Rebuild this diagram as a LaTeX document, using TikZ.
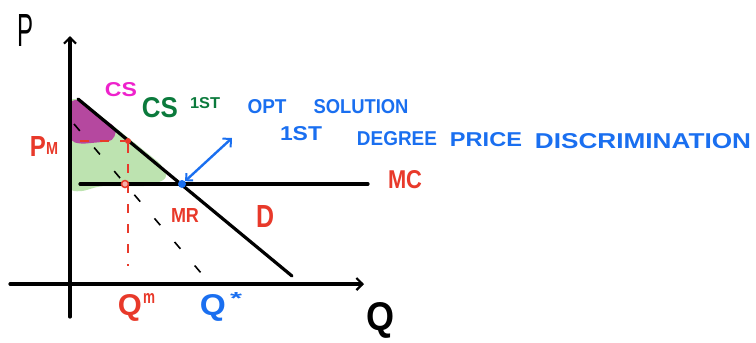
\documentclass[tikz,border=0pt]{standalone}
\usepackage{fontspec}
\usepackage{graphicx}
\setmainfont{Liberation Sans}
\usetikzlibrary{arrows.meta}
\definecolor{hred}{HTML}{E8392A}
\definecolor{hblue}{HTML}{1A6FF0}
\definecolor{hmag}{HTML}{EE22CC}
\definecolor{hdgreen}{HTML}{0B7A3C}
\definecolor{hgfill}{HTML}{BDE3B0}
\definecolor{hpfill}{HTML}{B5489F}
\newcommand{\fitw}[3]{\resizebox{#1pt}{#2pt}{\bfseries #3}}
\newcommand{\fitn}[3]{\resizebox{#1pt}{#2pt}{#3}}
\tikzset{
  axisline/.style={line width=3.2pt, line cap=round},
  curveline/.style={line width=3.2pt, line cap=round},
  lbl/.style={inner sep=0pt, outer sep=0pt},
  reddash/.style={hred, line width=2pt, dash pattern=on 9pt off 11pt},
  mrdash/.style={black, line width=1.6pt, dash pattern=on 9pt off 22pt},
  tipb/.style={-{Straight Barb[length=6pt,width=12pt,line width=2.2pt]}},
}
\begin{document}
\begin{tikzpicture}[x=1pt,y=-1pt]
\useasboundingbox (0,0) rectangle (756,343);
% shaded regions
\fill[hgfill, rounded corners=6pt] (68,99) -- (80,99) -- (162,165) -- (168,178) -- (150,186) -- (100,186) -- (80,192) -- (68,190) -- cycle;
\fill[hpfill, rounded corners=5pt] (70,100) -- (80,100) -- (108,122) -- (117,128) -- (113,141) -- (80,144) -- (70,141) -- cycle;
% axes
\coordinate (ybot) at (70,317);
\coordinate (ytop) at (70,36);
\coordinate (xleft) at (10,284);
\coordinate (xright) at (364,284);
\draw[axisline, tipb] (ybot) -- (ytop);
\draw[axisline, tipb] (xleft) -- (xright);
% demand and MC
\coordinate (d1) at (78,99);
\coordinate (d2) at (292,276);
\draw[curveline] (d1) -- (d2);
\coordinate (mc1) at (80,184);
\coordinate (mc2) at (368,184);
\draw[curveline] (mc1) -- (mc2);
% MR dashed
\coordinate (mr1) at (74,124);
\coordinate (mr2) at (207,280);
\draw[mrdash] (mr1) -- (mr2);
% red dashed lines and dots
\coordinate (pmL) at (80,141);
\node[circle, fill=hred, inner sep=0pt, minimum width=6pt, minimum height=6pt] (pmdot) at (128,141) {};
\coordinate (qmB) at (128,266);
\draw[reddash] (pmL) -- (pmdot);
\draw[reddash] (pmdot) -- (qmB);
\node[circle, draw=hred, fill=hred!40, line width=1.5pt, inner sep=0pt, minimum width=7pt] (mrdot) at (125,184) {};
% blue optimum
\node[circle, fill=hblue, inner sep=0pt, minimum width=8pt] (opt) at (182,184) {};
\coordinate (arrtip) at (232,138);
\draw[hblue, line width=2.4pt, line cap=round, {Straight Barb[length=5pt,width=10pt,line width=2pt]}-{Straight Barb[length=6pt,width=12pt,line width=2pt]}] (opt) -- (arrtip);
% labels
\node[lbl] (P) at (25,30) {\fitn{16}{32}{P}};
\node[lbl] (Q) at (380,320) {\fitw{28}{28}{Q}};
\node[lbl, text=hmag] (cs) at (121,90) {\fitw{32}{14}{CS}};
\node[lbl, text=hdgreen] (cs1) at (160,108) {\fitw{36}{20}{CS}};
\node[lbl, text=hdgreen] (cs1sup) at (205,103) {\fitw{30}{11}{1ST}};
\node[lbl, text=hred] (pmP) at (38,146) {\fitw{16}{20}{P}};
\node[lbl, text=hred] (pmM) at (52,148) {\fitw{12}{12}{M}};
\node[lbl, text=hred] (mc) at (405,180) {\fitw{34}{18}{MC}};
\node[lbl, text=hred] (mr) at (185,215) {\fitw{28}{14}{MR}};
\node[lbl, text=hred] (dl) at (265,216) {\fitw{18}{22}{D}};
\node[lbl, text=hred] (qm) at (130,308) {\fitw{24}{21}{Q}};
\node[lbl, text=hred] (qmsup) at (149,298) {\fitw{12}{10}{m}};
\node[lbl, text=hblue] (qs) at (213,308) {\fitw{26}{21}{Q}};
\node[lbl, text=hblue] (qssup) at (236,298) {\fitw{12}{12}{*}};
\node[lbl, text=hblue] (opt1) at (267,107) {\fitw{39}{14}{OPT}};
\node[lbl, text=hblue] (opt2) at (361,107) {\fitw{95}{14}{SOLUTION}};
\node[lbl, text=hblue] (pd1) at (301,134) {\fitw{42}{14}{1ST}};
\node[lbl, text=hblue] (pd2) at (397,139) {\fitw{80}{14}{DEGREE}};
\node[lbl, text=hblue] (pd3) at (486,140) {\fitw{72}{14}{PRICE}};
\node[lbl, text=hblue] (pd4) at (643,141) {\fitw{216}{15}{DISCRIMINATION}};
\end{tikzpicture}
\end{document}
